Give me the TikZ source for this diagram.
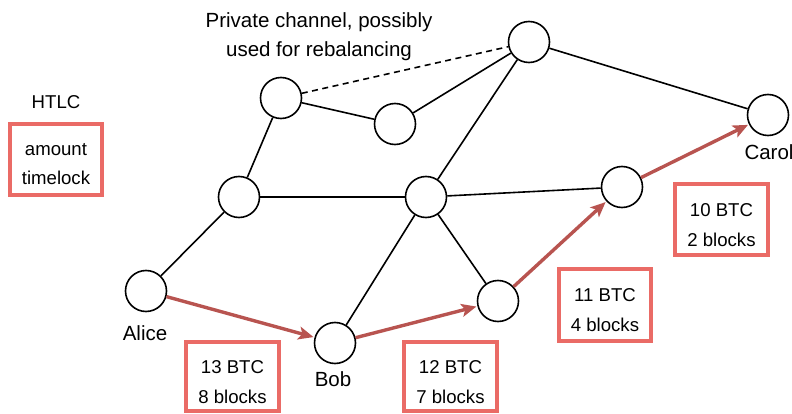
\documentclass[tikz,border=0pt]{standalone}
\usepackage{fontspec}
\setmainfont{Liberation Sans}
\usetikzlibrary{arrows.meta}
\definecolor{boxred}{HTML}{EA6B66}
\definecolor{arrred}{HTML}{B85450}
\tikzset{
  peer/.style={circle,draw=black,line width=1.6pt,minimum size=41pt,inner sep=0pt,fill=white},
  chan/.style={draw=black,line width=1.6pt},
  priv/.style={draw=black,line width=1.6pt,dash pattern=on 6pt off 4.5pt},
  pay/.style={draw=arrred,line width=3.4pt,-{Stealth[length=15pt,width=13pt,inset=3.5pt]},shorten >=1pt},
  lbl/.style={anchor=base,font=\fontsize{20.5}{24}\selectfont,inner sep=0pt},
  btxt/.style={anchor=base,font=\fontsize{18.6}{22}\selectfont,inner sep=0pt},
  htlcbox/.style={draw=boxred,line width=3.5pt}
}
\begin{document}
\begin{tikzpicture}[x=1pt,y=-1pt]
\useasboundingbox (0,0) rectangle (792,414);
% peers
\node[peer] (alice) at (146,291) {};
\node[peer] (bob) at (335,343) {};
\node[peer] (m) at (498,301) {};
\node[peer] (r) at (622,187) {};
\node[peer] (carol) at (768,115) {};
\node[peer] (a1) at (239,197) {};
\node[peer] (c1) at (426,197) {};
\node[peer] (t1) at (281,98) {};
\node[peer] (t2) at (395,124) {};
\node[peer] (t3) at (529,42) {};
% channels
\draw[chan] (alice) -- (a1);
\draw[chan] (a1) -- (t1);
\draw[chan] (a1) -- (c1);
\draw[chan] (t1) -- (t2);
\draw[chan] (t2) -- (t3);
\draw[priv] (t1) -- (t3);
\draw[chan] (t3) -- (c1);
\draw[chan] (t3) -- (carol);
\draw[chan] (c1) -- (r);
\draw[chan] (c1) -- (bob);
\draw[chan] (c1) -- (m);
% payment route
\draw[pay] (alice) -- (bob);
\draw[pay] (bob) -- (m);
\draw[pay] (m) -- (r);
\draw[pay] (r) -- (carol);
% labels
\node[lbl] (lalice) at (145,340) {Alice};
\node[lbl] (lbob) at (333,386) {Bob};
\node[lbl] (lcarol) at (769,160) {Carol};
\node[lbl] (lp1) at (319,28) {Private channel, possibly};
\node[lbl] (lp2) at (319,57) {used for rebalancing};
\node[btxt] (lhtlc) at (56,109) {HTLC};
% boxes
\draw[htlcbox] (10,124) rectangle (102,195);
\node[btxt] (h1) at (56,156) {amount};
\node[btxt] (h2) at (56,185) {timelock};
\draw[htlcbox] (186,342) rectangle (279,411);
\node[btxt] (b1) at (232.5,373) {13 BTC};
\node[btxt] (b2) at (232.5,403) {8 blocks};
\draw[htlcbox] (404,342) rectangle (497,411);
\node[btxt] (c1a) at (450.5,373) {12 BTC};
\node[btxt] (c2a) at (450.5,403) {7 blocks};
\draw[htlcbox] (559,269) rectangle (651,341);
\node[btxt] (d1) at (605,301) {11 BTC};
\node[btxt] (d2) at (605,331) {4 blocks};
\draw[htlcbox] (675,184) rectangle (768,255);
\node[btxt] (e1) at (721.5,216) {10 BTC};
\node[btxt] (e2) at (721.5,246) {2 blocks};
\end{tikzpicture}
\end{document}
